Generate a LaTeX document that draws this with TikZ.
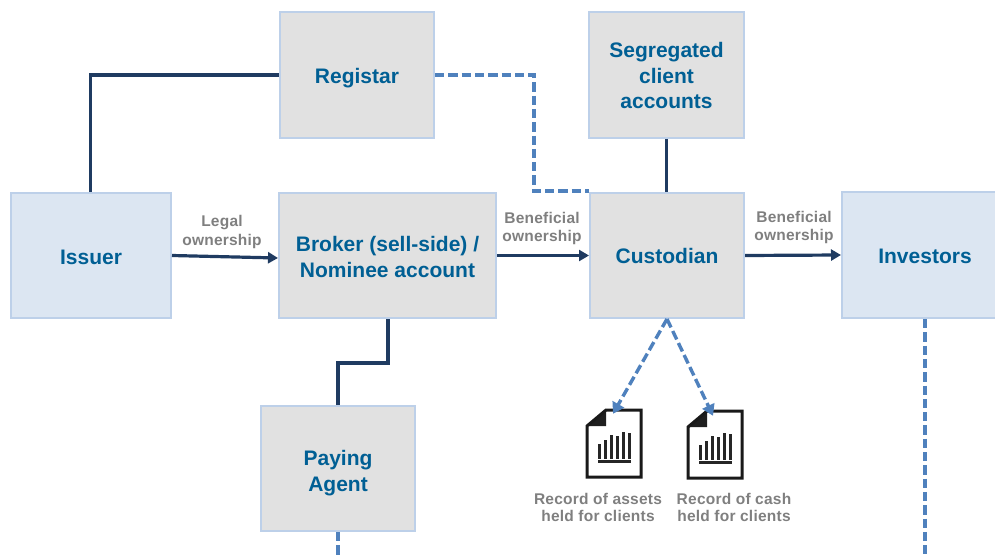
\documentclass[tikz,border=0pt]{standalone}
\usepackage{fontspec}
\setmainfont{Liberation Sans}
\usetikzlibrary{arrows.meta}
\definecolor{boxgray}{HTML}{E1E1E1}
\definecolor{boxblue}{HTML}{DCE6F2}
\definecolor{edgeblue}{HTML}{BDD0E9}
\definecolor{titleblue}{HTML}{005F94}
\definecolor{darkline}{HTML}{1F3B61}
\definecolor{dashblue}{HTML}{4F81BD}
\definecolor{labelgray}{HTML}{7F7F7F}
\tikzset{
  x=1pt,y=-1pt,
  box/.style={draw=edgeblue,line width=2pt,inner sep=0pt,align=center,text=titleblue,
    font=\fontsize{21}{25.5}\selectfont\bfseries},
  textdrop/.style={execute at begin node={\rule{0pt}{#1}}},
  wideleading/.style={font=\fontsize{21}{26}\selectfont\bfseries},
  graybox/.style={box,fill=boxgray},
  bluebox/.style={box,fill=boxblue},
  solidline/.style={draw=darkline,line width=3.2pt},
  solidarrow/.style={solidline,-{Triangle[length=10pt,width=11pt]}},
  dashline/.style={draw=dashblue,line width=3.4pt,dash pattern=on 9.3pt off 4pt},
  dasharrow/.style={dashline,-{Triangle[length=11pt,width=13pt]}},
  lbl/.style={inner sep=0pt,align=center,text=labelgray,
    font=\fontsize{15.5}{18.5}\selectfont\bfseries\addfontfeatures{LetterSpace=1.5}},
  reclbl/.style={lbl,font=\fontsize{15.5}{17}\selectfont\bfseries\addfontfeatures{LetterSpace=1.5}},
  docbox/.style={minimum width=54pt,minimum height=68pt,inner sep=0pt},
  docline/.style={draw=black!90,line width=3pt},
  docbar/.style={draw=black!85,line width=3pt},
}
\newcommand{\docicon}[2]{%
  \begin{scope}[shift={(#1,#2)}]
    \fill[black!88] (0,16) -- (19,0) -- (19,16) -- cycle;
    \draw[docline,line join=miter] (19,0) -- (54,0) -- (54,67) -- (0,67) -- (0,16) -- cycle;
    \foreach \bx/\by in {12/34,18/30,24/25,30/26,36/22,42/23}{
      \draw[docbar] (\bx,\by) -- (\bx,49);}
    \draw[docbar] (11,51.5) -- (43.5,51.5);
  \end{scope}}
\begin{document}
\begin{tikzpicture}
\path[use as bounding box,clip] (0,0) rectangle (995,556);

\node[bluebox,textdrop=17.5pt,minimum width=160pt,minimum height=125pt] (issuer) at (91,255.5) {Issuer};
\node[graybox,textdrop=21.5pt,minimum width=154pt,minimum height=126pt] (registar) at (357,75) {Registar};
\node[graybox,minimum width=155pt,minimum height=126pt] (seg) at (666.5,75) {\rule{0pt}{17pt}Segregated\\client\\accounts};
\node[graybox,wideleading,minimum width=217pt,minimum height=125pt] (broker) at (387.5,255.5) {\rule{0pt}{18.5pt}Broker (sell-side) /\\Nominee account};
\node[graybox,minimum width=154pt,minimum height=125pt] (cust) at (667,255.5) {Custodian};
\node[bluebox,textdrop=18pt,minimum width=166pt,minimum height=126pt] (inv) at (925,255) {Investors};
\node[graybox,wideleading,minimum width=154pt,minimum height=125pt] (pay) at (338,468.5) {\rule{0pt}{25pt}Paying\\Agent};

\node[docbox] (doc1) at (614,444) {};
\node[docbox] (doc2) at (715,445) {};
\docicon{587}{410}
\docicon{688}{411}

\node[lbl] (l1) at (222,232) {Legal\\ownership};
\node[lbl] (l2) at (542,228.5) {Beneficial\\ownership};
\node[lbl] (l3) at (794,227.5) {Beneficial\\ownership};
\node[reclbl] (r1) at (598,507) {Record of assets\\held for clients};
\node[reclbl] (r2) at (734,507) {Record of cash\\held for clients};

\coordinate (end1) at (338,560);
\coordinate (end2) at (925,560);
\coordinate (dtop) at (534,75);
\coordinate (dbot) at (534,191);
\coordinate (bk1) at (388,363);
\coordinate (bk2) at (338,363);
\coordinate (is1) at (90.5,75);

\draw[solidline] (issuer.north -| is1) -- (is1) -- (registar.west);
\draw[solidarrow] (issuer.east) -- (broker.west |- 0,258);
\draw[solidarrow] (broker.east) -- (cust.west);
\draw[solidarrow] (cust.east) -- (inv.west);
\draw[solidline] (seg.south) -- (cust.north -| seg.south);
\draw[solidline] (broker.south -| bk1) -- (bk1) -- (bk2) -- (pay.north);
\draw[dashline] (registar.east) -- (dtop) -- (dbot) -- (cust.north west |- dbot);
\draw[dashline] (pay.south) -- (end1);
\draw[dashline] (inv.south) -- (end2);
\draw[dasharrow] (cust.south) -- ([xshift=-1pt,yshift=-4pt]doc1.north);
\draw[dasharrow] (cust.south) -- ([xshift=-2pt,yshift=-5pt]doc2.north);
\end{tikzpicture}
\end{document}
